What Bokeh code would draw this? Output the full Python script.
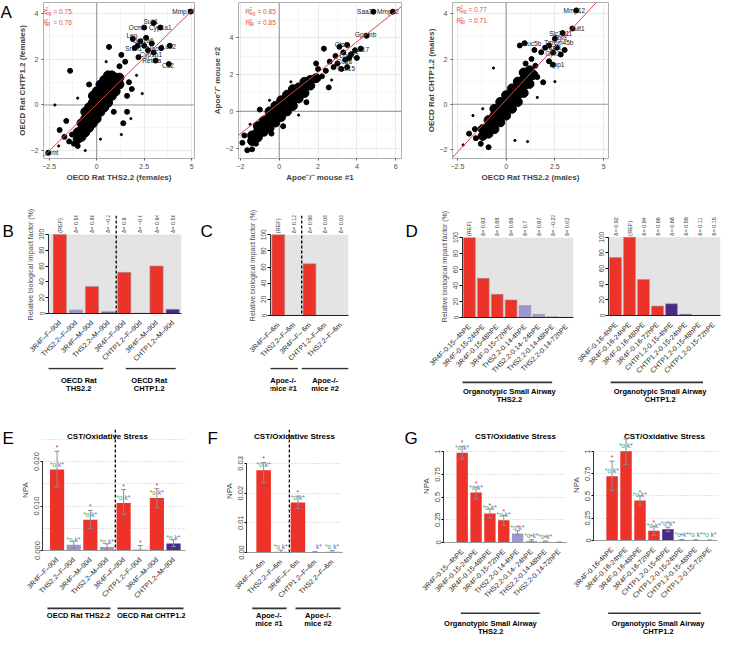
import math
from bokeh.plotting import figure
from bokeh.layouts import row, column
from bokeh.models import (Range1d, FixedTicker, Span, BoxAnnotation, Label, Whisker,
                          TeeHead, ColumnDataSource, Slope, Spacer)
from bokeh.core.properties import value
from bokeh.embed import file_html
from bokeh.resources import INLINE

FONT = "Liberation Sans"
S = 0.976


def sc(v):
    return int(round(v * S))


RED = "#ec3229"
LPUR = "#9d97d0"
PPUR = "#b9b5da"
DPUR = "#4a2a86"
GPUR = "#6f6b8f"
LGRAY = "#d6d6d6"
MGRAY = "#8e8e9e"
R2COL = "#e0524a"

# ===================== Panel A data =====================
a1_cloud_x = [-1.0, -1.0, -0.8, -0.8, -0.8, -0.6, -0.6, -0.6, -0.6, -0.4, -0.4, -0.4, -0.4,
              -0.2, -0.2, -0.2, -0.2, -0.2, 0.0, 0.0, 0.0, 0.0, 0.0, 0.2, 0.2, 0.2, 0.2, 0.2,
              0.4, 0.4, 0.4, 0.4, 0.4, 0.6, 0.6, 0.6, 0.6, 0.6, 0.8, 0.8, 0.8, 0.8,
              1.0, 1.0, 1.0, 1.2, 1.2]
a1_cloud_y = [-1.5, -1.2, -1.4, -1.1, -0.8, -1.2, -0.9, -0.6, -0.3, -1.0, -0.7, -0.4, -0.1,
              -0.8, -0.5, -0.2, 0.1, 0.4, -0.6, -0.3, 0.0, 0.3, 0.6, -0.3, 0.0, 0.3, 0.6, 0.9,
              -0.1, 0.2, 0.5, 0.8, 1.1, 0.1, 0.4, 0.7, 1.0, 1.3, 0.4, 0.7, 1.0, 1.3,
              0.6, 0.9, 1.2, 0.9, 1.2]
a1_big_x = [-1.4, 0.65, 1.85, 1.7, 2.2, 2.5, 2.3, 2.6, 2.9, 2.7, 3.4, 3.0, 3.1, 3.8, 3.85,
            2.5, 3.0, 3.35, 4.95, -2.55, -1.95, -1.7, -1.45, -1.2, -1.0, -1.6, 1.5, 1.3,
            2.0, 1.6, 1.4, -1.3, 1.6, 1.2, -0.4, 0.9, 1.9, 2.15]
a1_big_y = [1.5, 2.55, 0.7, 1.0, 2.1, 2.6, 2.8, 2.95, 2.7, 2.4, 2.5, 2.3, 1.95, 1.8, 2.6,
            3.4, 3.6, 3.4, 4.1, -2.1, -1.1, -1.4, -1.6, -1.7, -1.8, -0.7, 1.9, 2.2,
            2.5, -0.3, -0.8, -1.3, 0.4, 1.7, 0.9, -0.3, 2.9, 2.6]
a1_small_x = [-2.2, 1.3, 2.4, 2.1, -0.6, 0.2, -1.0, 1.8, -2.0, 0.5]
a1_small_y = [0.0, -1.3, 0.5, 1.3, -2.0, -1.5, 0.3, -0.6, -1.8, 1.9]
a1_genes = ["Mmp12", "Sult1", "Ocm1", "Cyp1a1", "Lep", "Ugt1a6", "Srxn1", "Nqo1", "Lcn2",
            "Cyp1b1", "Retnla", "Cd2", "Inmt"]
a1_gene_x = [4.55, 2.85, 2.15, 3.35, 1.85, 2.45, 1.95, 3.05, 3.8, 2.85, 2.9, 3.75, -2.35]
a1_gene_y = [4.1, 3.65, 3.4, 3.4, 3.05, 2.85, 2.5, 2.5, 2.55, 2.2, 1.95, 1.75, -2.1]
a1_fit = (0.82, 0.03)
a1_r2 = ("0.75", "0.76")

a2_cloud_x = [-1.4, -1.4, -1.1, -1.1, -1.1, -0.8, -0.8, -0.8, -0.5, -0.5, -0.5, -0.5,
              -0.2, -0.2, -0.2, -0.2, 0.1, 0.1, 0.1, 0.1, 0.4, 0.4, 0.4, 0.4,
              0.7, 0.7, 0.7, 0.7, 1.0, 1.0, 1.0, 1.3, 1.3, 1.3, 1.6, 1.6, 1.9]
a2_cloud_y = [-1.6, -1.3, -1.4, -1.1, -0.8, -1.1, -0.8, -0.5, -0.9, -0.6, -0.3, 0.0,
              -0.6, -0.3, 0.0, 0.3, -0.3, 0.0, 0.3, 0.6, 0.0, 0.3, 0.6, 0.9,
              0.3, 0.6, 0.9, 1.2, 0.7, 1.0, 1.3, 1.0, 1.3, 1.6, 1.4, 1.7, 1.8]
a2_big_x = [2.3, 2.55, 2.9, 3.1, 3.3, 3.5, 3.0, 3.4, 3.7, 3.9, 4.2, 3.2, 3.5, 3.6, 2.8, 4.0,
            -1.65, -1.4, -1.9, -1.2, -1.8, 2.0, 2.2, 1.9, -0.4, 0.2, 1.4, 4.85, 5.85, 4.5,
            -1.0, 2.4, 2.6]
a2_big_y = [3.4, 1.3, 3.0, 3.5, 3.2, 3.6, 2.6, 2.8, 3.1, 3.3, 3.4, 2.3, 2.4, 2.9, 2.4, 2.9,
            -2.1, -2.05, -1.7, -1.75, -1.3, 2.3, 1.9, 2.6, -1.2, -0.8, 0.5, 5.4, 5.4, 4.1,
            0.1, 2.2, 2.7]
a2_small_x = [-0.5, 1.0, 2.7, -1.5, 0.6]
a2_small_y = [0.6, -0.2, 1.7, -0.7, 1.6]
a2_genes = ["Saa3", "Mmp12", "Gpnmb", "Ctsk", "Ccl17", "Lgals3", "Cd68", "Gdf15"]
a2_gene_x = [4.4, 5.6, 4.45, 3.2, 4.2, 3.6, 3.35, 3.45]
a2_gene_y = [5.4, 5.4, 4.15, 3.6, 3.35, 3.05, 2.7, 2.35]
a2_fit = (0.83, 0.45)
a2_r2 = ("0.85", "0.85")

a3_cloud_x = [-1.2, -1.2, -0.9, -0.9, -0.9, -0.6, -0.6, -0.6, -0.6, -0.3, -0.3, -0.3, -0.3,
              0.0, 0.0, 0.0, 0.0, 0.3, 0.3, 0.3, 0.3, 0.6, 0.6, 0.6, 0.6,
              0.9, 0.9, 0.9, 0.9, 1.2, 1.2, 1.2, 1.4]
a3_cloud_y = [-1.4, -1.1, -1.3, -1.0, -0.7, -1.1, -0.8, -0.5, -0.2, -0.8, -0.5, -0.2, 0.1,
              -0.5, -0.2, 0.1, 0.4, -0.2, 0.1, 0.4, 0.7, 0.1, 0.4, 0.7, 1.0,
              0.5, 0.8, 1.1, 1.4, 0.9, 1.2, 1.5, 1.3]
a3_big_x = [0.7, 0.95, 1.45, 1.8, 2.0, 2.2, 2.4, 2.6, 2.8, 3.0, 2.5, 2.9, 3.4, 3.6, 2.4,
            1.9, 1.5, 1.3, -1.3, -1.55, -0.9, 1.0, -1.6, 1.6, 2.2, -1.9]
a3_big_y = [2.6, 2.7, 2.4, 2.3, 2.5, 2.6, 2.3, 2.5, 2.2, 2.4, 2.9, 3.15, 3.35, 4.15, 1.75,
            0.97, 1.7, 2.0, -1.75, -1.5, -1.9, 1.8, -1.1, 1.2, 1.9, -1.3]
a3_small_x = [-0.65, 0.45, 1.1, -1.7, 2.5, -1.2, 1.6, -2.2]
a3_small_y = [1.6, -1.6, -1.65, -0.5, 1.0, -0.2, 0.3, -1.8]
a3_genes = ["Mmp12", "Sult1", "Slc7a11", "Cbr3", "Tmem45b", "Muc5b", "Nqo1", "Gpx2", "Spp1"]
a3_gene_x = [3.5, 3.65, 2.8, 2.75, 2.7, 1.3, 2.45, 2.4, 2.6]
a3_gene_y = [4.15, 3.35, 3.15, 2.95, 2.75, 2.7, 2.5, 2.25, 1.75]
a3_fit = (0.93, 0.2)
a3_r2 = ("0.77", "0.71")

# ===================== Panels B-D data (RBIF %) =====================
b_labels = ["3R4F–F–90d", "THS2.2–F–90d", "3R4F–M–90d", "THS2.2–M–90d",
            "3R4F–F–90d", "CHTP1.2–F–90d", "3R4F–M–90d", "CHTP1.2–M–90d"]
b_rbif = [100, 4.5, 34, 2.3, 52, 0.5, 60, 5.3]
b_delta = ["(REF)", "δ= 0.59", "δ= 0.88", "δ= −0.28", "δ= 0.9", "δ= −0.06", "δ= 0.94", "δ= 0.58"]
b_colors = [RED, LPUR, RED, GPUR, RED, LGRAY, RED, DPUR]

c_labels = ["3R4F–F–6m", "THS2.2–F–6m", "3R4F–F– 6m", "CHTP1.2–F–6m", "THS2.2–F–6m"]
c_rbif = [100, 0.3, 64, 0.2, 0.1]
c_delta = ["(REF)", "δ= 0.12", "δ= 0.99", "δ= 0.08", "δ= 0.03"]
c_colors = [RED, LPUR, RED, DPUR, LPUR]

d1_labels = ["3R4F-0.15--4hPE", "3R4F-0.15-24hPE", "3R4F-0.15-48hPE", "3R4F-0.15-72hPE",
             "THS2.2-0.14-4hPE", "THS2.2-0.14- 24hPE", "THS2.2-0.14-48hPE", "THS2.2-0.14-72hPE"]
d1_rbif = [100, 49, 29, 22, 15, 4, 0.8, 0.2]
d1_delta = ["(REF)", "δ= 0.93", "δ= 0.88", "δ= 0.86", "δ= 0.7", "δ= 0.67", "δ= −0.23", "δ= 0.02"]
d1_colors = [RED, RED, RED, RED, LPUR, LPUR, MGRAY, MGRAY]

d2_labels = ["3R4F-0.16-4hPE", "3R4F-0.16-24hPE", "3R4F-0.16-48hPE", "3R4F-0.16-72hPE",
             "CHTP1.2-0.15-4hPE", "CHTP1.2-0.15-24hPE", "CHTP1.2-0.15-48hPE", "CHTP1.2-0.15-72hPE"]
d2_rbif = [74, 100, 46, 12, 15, 1.5, 0.3, 0.2]
d2_delta = ["δ= 0.92", "(REF)", "δ= 0.94", "δ= 0.66", "δ= 0.68", "δ= 0.59", "δ= 0.11", "δ= 0.15"]
d2_colors = [RED, RED, RED, RED, DPUR, DPUR, DPUR, DPUR]

# ===================== Panels E-G data (NPA) =====================
e_labels = b_labels
e_npa = [0.0182, 0.0013, 0.0069, 0.0008, 0.0107, 0.0004, 0.0118, 0.0016]
e_lo = [0.0143, 0.0005, 0.0049, 0.0002, 0.0081, 0.0, 0.0096, 0.0009]
e_hi = [0.0223, 0.0021, 0.0090, 0.0015, 0.0137, 0.0011, 0.0139, 0.0024]
e_colors = [RED, LPUR, RED, LPUR, RED, LGRAY, RED, DPUR]
e_red = [1, 0, 1, 0, 1, 1, 1, 0]
e_grn = [1, 1, 1, 1, 1, 0, 1, 1]
e_blu = [1, 1, 1, 1, 1, 0, 1, 1]

f_labels = c_labels
f_npa = [0.0277, 0.0003, 0.0168, 0.0001, 0.0003]
f_lo = [0.0235, 0.0, 0.0148, 0.0, 0.0]
f_hi = [0.0303, 0.0008, 0.0190, 0.0003, 0.0006]
f_colors = [RED, LGRAY, RED, LGRAY, LGRAY]
f_red = [1, 0, 1, 0, 0]
f_grn = [1, 1, 1, 0, 1]
f_blu = [1, 1, 1, 1, 1]

g1_labels = d1_labels
g1_npa = [0.99, 0.55, 0.32, 0.245, 0.10, 0.02, 0.01, 0.003]
g1_lo = [0.92, 0.48, 0.27, 0.19, 0.08, 0.01, 0.004, 0.0]
g1_hi = [1.06, 0.61, 0.37, 0.30, 0.13, 0.03, 0.016, 0.006]
g1_colors = [RED, RED, RED, RED, LPUR, PPUR, LGRAY, LGRAY]
g1_red = [1, 1, 1, 1, 1, 1, 1, 0]
g1_grn = [1, 1, 1, 1, 1, 1, 1, 0]
g1_blu = [1, 1, 1, 1, 1, 1, 1, 0]

g2_labels = d2_labels
g2_npa = [0.72, 1.0, 0.45, 0.11, 0.125, 0.006, 0.004, 0.003]
g2_lo = [0.56, 0.85, 0.39, 0.06, 0.10, 0.0, 0.0, 0.0]
g2_hi = [0.89, 1.14, 0.50, 0.16, 0.15, 0.012, 0.008, 0.006]
g2_colors = [RED, RED, RED, RED, DPUR, DPUR, LGRAY, LGRAY]
g2_red = [1, 1, 1, 1, 1, 1, 0, 0]
g2_grn = [1, 1, 1, 1, 1, 1, 1, 1]
g2_blu = [1, 1, 1, 1, 1, 1, 1, 1]


# ===================== helpers =====================
def make_fig(x0, x1, fl, fr, top, bottom, ft, fb, xr, yr, axes=True):
    kw = {} if axes else dict(x_axis_type=None, y_axis_type=None)
    p = figure(width=sc(x1) - sc(x0), height=sc(bottom) - sc(top),
               x_range=xr, y_range=yr, output_backend="svg", toolbar_location=None,
               min_border_left=sc(fl) - sc(x0), min_border_right=sc(x1) - sc(fr),
               min_border_top=sc(ft) - sc(top), min_border_bottom=sc(bottom) - sc(fb), **kw)
    p.outline_line_color = None
    p.background_fill_color = "white"
    p.border_fill_color = "white"
    p.grid.visible = False
    return p


def clabel(p, x0, top, x, y, text, size, bold=False, align="left", baseline="top", color="black"):
    p.add_layout(Label(x=sc(x) - sc(x0), y=sc(y) - sc(top), x_units="canvas", y_units="canvas",
                       text=text, text_font=FONT, text_font_size=size,
                       text_font_style="bold" if bold else "normal", text_align=align,
                       text_baseline=baseline, text_color=color))


def letter_fig(x0, x1, top, bottom, letter, lx, ly):
    f = make_fig(x0, x1, x0, x1, top, bottom, top, bottom, Range1d(0, 1), Range1d(0, 1), axes=False)
    clabel(f, x0, top, lx, ly, letter, "17px")
    return f


def scatter_panel(x0, x1, fl, fr, xr, yr, xt, xm, yt, ym, xlab, ylab, cx, cy, bx, by,
                  smx, smy, gt, gx, gy, fit, r2, r2x, r2y):
    p = make_fig(x0, x1, fl, fr, 0, 190, 2, 162, Range1d(*xr), Range1d(*yr))
    p.outline_line_color = "#b0b0b0"
    p.xaxis.ticker = FixedTicker(ticks=xt, minor_ticks=xm)
    p.yaxis.ticker = FixedTicker(ticks=yt, minor_ticks=ym)
    p.grid.visible = True
    p.grid.grid_line_color = "#e4e4e4"
    p.grid.grid_line_width = 0.8
    p.grid.minor_grid_line_color = "#f0f0f0"
    p.grid.minor_grid_line_width = 0.6
    for ax in (p.xaxis[0], p.yaxis[0]):
        ax.axis_line_color = None
        ax.major_tick_line_color = "#555555"
        ax.major_tick_out = 2
        ax.major_tick_in = 0
        ax.minor_tick_line_color = None
        ax.major_label_text_font = FONT
        ax.major_label_text_font_size = "7px"
        ax.major_label_text_color = "#4d4d4d"
        ax.major_label_standoff = 1
        ax.axis_label_text_font = FONT
        ax.axis_label_text_font_size = "8px"
        ax.axis_label_text_font_style = "bold"
        ax.axis_label_standoff = 1
    p.xaxis[0].axis_label = xlab
    p.yaxis[0].axis_label = ylab
    p.add_layout(Span(location=0, dimension="height", line_color="#a0a0a0", line_width=1.2, level="underlay"))
    p.add_layout(Span(location=0, dimension="width", line_color="#a0a0a0", line_width=1.2, level="underlay"))
    p.scatter(x=cx, y=cy, size=9, color="black")
    p.scatter(x=bx, y=by, size=5, color="black")
    p.scatter(x=smx, y=smy, size=2.2, color="black")
    p.add_layout(Slope(gradient=fit[0], y_intercept=fit[1], line_color="#e0463c", line_width=1))
    p.text(x=gx, y=gy, text=gt, text_align="center", text_baseline="middle",
           text_font=value(FONT), text_font_size=value("6.5px"), text_color="#1a1a1a")
    for j, (sub, val) in enumerate([("sig", r2[0]), ("all", r2[1])]):
        yy = r2y + 12 * j
        clabel(p, x0, 0, r2x, yy, "R", "6.5px", baseline="middle", color=R2COL)
        clabel(p, x0, 0, r2x + 4.5, yy - 2.5, "2", "4.5px", baseline="middle", color=R2COL)
        clabel(p, x0, 0, r2x + 4.5, yy + 2, sub, "4.5px", baseline="middle", color=R2COL)
        clabel(p, x0, 0, r2x + 12, yy, "= " + val, "6.5px", baseline="middle", color=R2COL)
    return p


def cat_xaxis(p, labels, line_color):
    xax = p.xaxis[0]
    xax.ticker = FixedTicker(ticks=list(range(len(labels))))
    xax.major_label_overrides = {i: l for i, l in enumerate(labels)}
    xax.major_label_orientation = math.pi / 4
    xax.major_tick_line_color = None
    xax.minor_tick_line_color = None
    xax.axis_line_color = line_color
    xax.major_label_text_font = FONT
    xax.major_label_text_font_size = "7px"
    xax.major_label_text_color = "#222222"
    xax.major_label_standoff = 2


def group_fig(x0, x1, fl, fr, gtop, gbot, xrange, starts, ends, centers, line_y,
              l1, t1, l2=None, t2=None):
    h = gbot - gtop
    g = make_fig(x0, x1, fl, fr, gtop, gbot, gtop, gbot, xrange, Range1d(h, 0), axes=False)
    k = len(starts)
    g.segment(x0=starts, y0=[line_y] * k, x1=ends, y1=[line_y] * k,
              line_color="#333333", line_width=1.6)
    g.text(x=centers, y=[t1] * k, text=l1, text_align="center", text_baseline="middle",
           text_font=value(FONT), text_font_style="bold", text_font_size=value("7.5px"))
    if l2 is not None:
        g.text(x=centers, y=[t2] * k, text=l2, text_align="center", text_baseline="middle",
               text_font=value(FONT), text_font_style="bold", text_font_size=value("7.5px"))
    return g


def bar_panel(x0, x1, fl, fr, fb, y100, bar_bottom, xr, labels, vals, colors, deltas, bw,
              sep, ylab):
    ymax = 100.0 * (fb - 220) / (fb - y100)
    xrange = Range1d(*xr)
    p = make_fig(x0, x1, fl, fr, 190, bar_bottom, 220, fb, xrange, Range1d(0, ymax))
    idx = list(range(len(labels)))
    p.add_layout(BoxAnnotation(bottom=0, top=100, fill_color="#e4e4e4", fill_alpha=1.0,
                               line_color=None, level="underlay"))
    src = ColumnDataSource(dict(x=idx, top=vals, color=colors))
    p.vbar(x="x", top="top", width=bw, fill_color="color", line_color="#9a9a9a",
           line_width=0.6, source=src)
    p.text(x=idx, y=[102] * len(idx), text=deltas, angle=math.pi / 2, text_align="left",
           text_baseline="middle", text_font=value(FONT), text_font_size=value("5.5px"),
           text_color="#333333")
    if sep is not None:
        p.add_layout(Span(location=sep, dimension="height", line_color="black",
                          line_dash="3 2", line_width=1.3))
    yax = p.yaxis[0]
    yax.ticker = FixedTicker(ticks=[0, 20, 40, 60, 80, 100])
    yax.bounds = (0, 100)
    yax.major_label_orientation = "vertical"
    yax.major_tick_out = 3
    yax.major_tick_in = 0
    yax.minor_tick_line_color = None
    yax.axis_line_color = "#333333"
    yax.major_label_text_font = FONT
    yax.major_label_text_font_size = "6.5px"
    yax.major_label_standoff = 1
    if ylab:
        yax.axis_label = ylab
        yax.axis_label_text_font = FONT
        yax.axis_label_text_font_size = "7px"
        yax.axis_label_text_font_style = "normal"
        yax.axis_label_standoff = 3
    cat_xaxis(p, labels, "#222222")
    return p, xrange


def npa_panel(x0, x1, fl, fr, fb, pxu, xr, labels, vals, lo, hi, colors, rf, gf, bf, bw,
              yt, ylabels, ygrid, sep, title_x):
    ymax = (fb - 440.0) / pxu
    xrange = Range1d(*xr)
    p = make_fig(x0, x1, fl, fr, 415, 619, 440, fb, xrange, Range1d(0, ymax))
    p.ygrid.visible = True
    p.ygrid.ticker = FixedTicker(ticks=ygrid)
    p.ygrid.grid_line_color = "#c4c4c4"
    p.ygrid.grid_line_dash = "1 2"
    idx = list(range(len(labels)))
    src = ColumnDataSource(dict(x=idx, top=vals, color=colors, lo=lo, hi=hi))
    p.vbar(x="x", top="top", width=bw, fill_color="color", line_color=None, source=src)
    p.add_layout(Whisker(source=src, base="x", lower="lo", upper="hi", line_color="#8c8c8c",
                         line_width=1, level="overlay",
                         upper_head=TeeHead(size=5, line_color="#8c8c8c", line_width=1),
                         lower_head=TeeHead(size=5, line_color="#8c8c8c", line_width=1)))
    sx = [i for i in idx if rf[i]]
    sy = [hi[i] for i in idx if rf[i]]
    p.text(x=sx, y=sy, text=["*"] * len(sx), text_color="#e8302a", text_align="center",
           text_baseline="bottom", text_font=value(FONT), text_font_size=value("7px"))
    gx = [i for i in idx if gf[i]]
    gy = [vals[i] for i in idx if gf[i]]
    p.text(x=gx, y=gy, text=["*o"] * len(gx), text_color="#3aa845", text_align="right",
           text_baseline="bottom", x_offset=-1, y_offset=-2,
           text_font=value(FONT), text_font_size=value("6.5px"))
    bxx = [i for i in idx if bf[i]]
    byy = [vals[i] for i in idx if bf[i]]
    p.text(x=bxx, y=byy, text=["k*"] * len(bxx), text_color="#4a6fc0", text_align="left",
           text_baseline="bottom", x_offset=1, y_offset=-2,
           text_font=value(FONT), text_font_size=value("6.5px"))
    if sep is not None:
        p.add_layout(Span(location=sep, dimension="height", line_color="black",
                          line_dash="3 2", line_width=1.3))
    yax = p.yaxis[0]
    yax.ticker = FixedTicker(ticks=yt)
    yax.major_label_overrides = dict(zip(yt, ylabels))
    yax.bounds = (0, yt[-1])
    yax.major_label_orientation = "vertical"
    yax.major_tick_out = 2
    yax.major_tick_in = 0
    yax.minor_tick_line_color = None
    yax.axis_line_color = "#333333"
    yax.major_label_text_font = FONT
    yax.major_label_text_font_size = "7.5px"
    yax.major_label_standoff = 1
    yax.axis_label = "NPA"
    yax.axis_label_text_font = FONT
    yax.axis_label_text_font_size = "8px"
    yax.axis_label_text_font_style = "normal"
    yax.axis_label_standoff = 2
    cat_xaxis(p, labels, "#9a9a9a")
    clabel(p, x0, 415, title_x, 447, "CST/Oxidative Stress", "8px", bold=True,
           align="center", baseline="middle")
    return p, xrange


# ===================== Row A =====================
LA = letter_fig(0, 14, 0, 190, "A", 0, 2)
A1 = scatter_panel(14, 206, 36, 199, (-2.8, 5.15), (-2.35, 4.5), [-2.5, 0, 2.5, 5], [-1.25, 1.25, 3.75],
                   [-2, 0, 2, 4], [-1, 1, 3], "OECD Rat THS2.2 (females)", "OECD Rat CHTP1.2 (females)",
                   a1_cloud_x, a1_cloud_y, a1_big_x, a1_big_y, a1_small_x, a1_small_y,
                   a1_genes, a1_gene_x, a1_gene_y, a1_fit, a1_r2, 42, 11)
A2 = scatter_panel(206, 420, 244, 411, (-2.1, 6.3), (-2.55, 5.9), [-2, 0, 2, 4, 6], [-1, 1, 3, 5],
                   [-2, 0, 2, 4], [-1, 1, 3, 5], "Apoe⁻/⁻ mouse #1", "Apoe⁻/⁻ mouse #2",
                   a2_cloud_x, a2_cloud_y, a2_big_x, a2_big_y, a2_small_x, a2_small_y,
                   a2_genes, a2_gene_x, a2_gene_y, a2_fit, a2_r2, 251, 11)
A3 = scatter_panel(420, 640, 463, 623, (-2.75, 5.25), (-2.4, 4.5), [-2.5, 0, 2.5, 5], [-1.25, 1.25, 3.75],
                   [-2, 0, 2, 4], [-1, 1, 3], "OECD Rat THS2.2 (males)", "OECD Rat CHTP1.2 (males)",
                   a3_cloud_x, a3_cloud_y, a3_big_x, a3_big_y, a3_small_x, a3_small_y,
                   a3_genes, a3_gene_x, a3_gene_y, a3_fit, a3_r2, 467, 9)
bandA = row(LA, A1, A2, A3)

# ===================== Row B-D =====================
YLAB = "Relative biological impact factor (%)"
LB = letter_fig(0, 16, 190, 415, "B", 2, 226)
Bb, Bx = bar_panel(16, 188, 49, 185, 329, 241, 376, (-0.7, 7.55), b_labels, b_rbif, b_colors,
                   b_delta, 0.82, 3.5, YLAB)
Bg = group_fig(16, 188, 49, 185, 376, 415, Bx, [-0.76, 4.1], [2.7, 7.19], [1.18, 5.55], 1,
               ["OECD Rat", "OECD Rat"], 13, ["THS2.2", "CHTP1.2"], 22)
LC = letter_fig(188, 222, 190, 415, "C", 205, 226)
Cb, Cx = bar_panel(222, 360, 277, 357, 329, 241, 376, (-0.5, 4.5), c_labels, c_rbif, c_colors,
                   c_delta, 0.82, 1.5, YLAB)
Cg = group_fig(222, 360, 277, 357, 376, 415, Cx, [-0.75, 1.5], [1.25, 4.5], [0.31, 3.0], 1,
               ["Apoe-/-", "Apoe-/-"], 13, ["mice #1", "mice #2"], 22)
LD = letter_fig(360, 430, 190, 415, "D", 415, 226)
D1b, D1x = bar_panel(430, 590, 473, 587, 326, 243, 388, (-0.5, 7.5), d1_labels, d1_rbif, d1_colors,
                     d1_delta, 0.85, None, YLAB)
D1g = group_fig(430, 590, 473, 587, 388, 415, D1x, [-0.7], [5.96], [2.88], 3,
                ["Organotypic Small Airway"], 12, ["THS2.2"], 21)
D2b, D2x = bar_panel(590, 742, 623, 738, 326, 243, 388, (-0.5, 7.5), d2_labels, d2_rbif, d2_colors,
                     d2_delta, 0.85, None, None)
D2g = group_fig(590, 742, 623, 738, 388, 415, D2x, [-0.35], [6.25], [3.19], 3,
                ["Organotypic Small Airway"], 12, ["CHTP1.2"], 21)
bandB = row(LB, column(Bb, Bg), LC, column(Cb, Cg), LD, column(D1b, D1g), column(D2b, D2g))

# ===================== Row E-G =====================
LE = letter_fig(0, 16, 415, 652, "E", 2, 439)
Eb, Ex = npa_panel(16, 196, 43, 190, 567, 4670.0, (-0.877, 7.72), e_labels, e_npa, e_lo, e_hi,
                   e_colors, e_red, e_grn, e_blu, 0.85, [0, 0.01, 0.02], ["0.000", "0.010", "0.020"],
                   [0.005, 0.01, 0.015, 0.02, 0.025], 3.5, 110)
Eg = group_fig(16, 196, 43, 190, 619, 652, Ex, [-0.58, 3.63], [3.21, 7.6], [1.29, 5.67], 4,
               ["OECD Rat THS2.2", "OECD Rat CHTP1.2"], 11)
LF = letter_fig(196, 226, 415, 652, "F", 212, 439)
Fb, Fx = npa_panel(226, 356, 252, 350, 567, 3067.0, (-1.0, 4.6), f_labels, f_npa, f_lo, f_hi,
                   f_colors, f_red, f_grn, f_blu, 0.85, [0, 0.01, 0.02, 0.03],
                   ["0.00", "0.01", "0.02", "0.03"], [0.01, 0.02, 0.03], 1.5, 301)
Fg = group_fig(226, 356, 252, 350, 619, 652, Fx, [-0.66, 1.86], [1.34, 4.49], [0.31, 3.17], 4,
               ["Apoe-/-", "Apoe-/-"], 11, ["mice #1", "mice #2"], 20)
LG = letter_fig(356, 428, 415, 652, "G", 414, 439)
G1b, G1x = npa_panel(428, 582, 452, 580, 562, 98.0, (-1.35, 7.53), g1_labels, g1_npa, g1_lo, g1_hi,
                     g1_colors, g1_red, g1_grn, g1_blu, 0.82, [0, 0.25, 0.5, 0.75, 1],
                     ["0", "0.25", "0.5", "0.75", "1"], [0.25, 0.5, 0.75, 1.0], None, 528)
G1g = group_fig(428, 582, 452, 580, 619, 652, G1x, [-0.1], [5.6], [2.05], 9,
                ["Organotypic Small Airway"], 20, ["THS2.2"], 28)
G2b, G2x = npa_panel(582, 742, 608, 735, 562, 98.0, (-1.33, 7.55), g2_labels, g2_npa, g2_lo, g2_hi,
                     g2_colors, g2_red, g2_grn, g2_blu, 0.82, [0, 0.25, 0.5, 0.75, 1],
                     ["0", "0.25", "0.5", "0.75", "1"], [0.25, 0.5, 0.75, 1.0], None, 680)
G2g = group_fig(582, 742, 608, 735, 619, 652, G2x, [-0.28], [6.36], [3.3], 9,
                ["Organotypic Small Airway"], 20, ["CHTP1.2"], 28)
bandE = row(LE, column(Eb, Eg), LF, column(Fb, Fg), LG, column(G1b, G1g), column(G2b, G2g))

layout = column(bandA, bandB, bandE)
open("out.html", "w").write(file_html(layout, INLINE, title="Figure"))
